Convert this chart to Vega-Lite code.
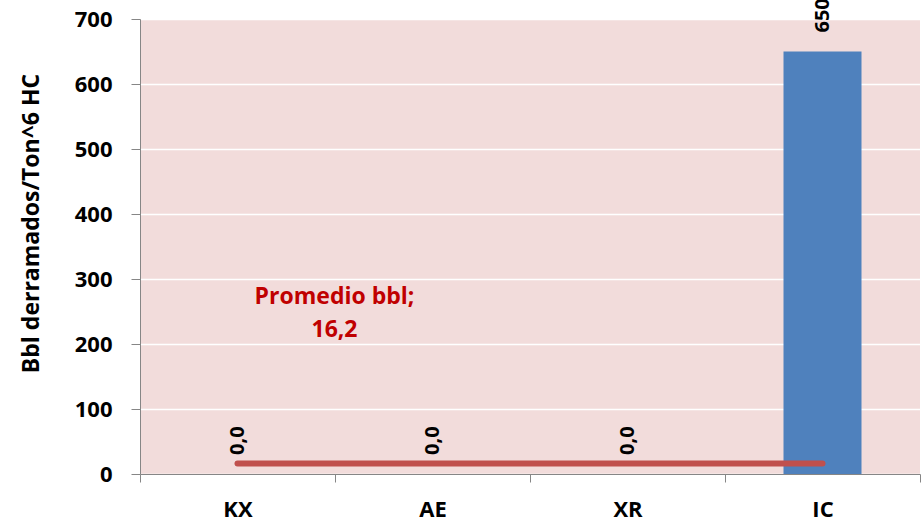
{
  "$schema": "https://vega.github.io/schema/vega-lite/v6.json",
  "width": 780,
  "height": 455,
  "autosize": {"type": "none"},
  "padding": {"left": 140, "top": 19, "right": 4, "bottom": 49},
  "background": "white",
  "config": {
    "locale": {"number": {"decimal": ",", "thousands": ".", "grouping": [3], "currency": ["", " €"]}},
    "view": {"fill": "#f2dcdb", "stroke": null},
    "font": "Open Sans"
  },
  "datasets": {
    "main": [
      {"cat": "KX", "value": 0},
      {"cat": "AE", "value": 0},
      {"cat": "XR", "value": 0},
      {"cat": "IC", "value": 650}
    ],
    "avg": [
      {"cat": "KX", "avg": 16.2},
      {"cat": "IC", "avg": 16.2}
    ],
    "note": [
      {"cat": "KX", "y": 272, "label": "Promedio bbl;\n16,2"}
    ]
  },
  "encoding": {
    "x": {
      "field": "cat", "type": "nominal", "sort": ["KX", "AE", "XR", "IC"],
      "scale": {"paddingInner": 0, "paddingOuter": 0},
      "axis": {
        "title": null, "labelAngle": 0, "labelFontSize": 22, "labelFontWeight": "bold",
        "labelColor": "black", "labelPadding": 17, "tickBand": "extent", "tickSize": 8,
        "tickColor": "#868686", "domainColor": "#868686", "grid": false
      }
    }
  },
  "layer": [
    {
      "data": {"name": "main"},
      "mark": {"type": "bar", "color": "#4f81bd", "width": {"band": 0.4}},
      "encoding": {
        "y": {
          "field": "value", "type": "quantitative",
          "scale": {"domain": [0, 700], "nice": false},
          "axis": {
            "values": [0, 100, 200, 300, 400, 500, 600, 700],
            "title": "Bbl derramados/Ton^6 HC", "titleFontSize": 23, "titleFontWeight": "bold",
            "titleColor": "black", "titlePadding": 31, "titleY": 204,
            "labelFontSize": 22, "labelFontWeight": "bold", "labelColor": "black",
            "labelPadding": 19, "tickSize": 9, "tickColor": "#868686", "domainColor": "#868686",
            "gridColor": "white", "gridWidth": 1.5
          }
        }
      }
    },
    {
      "data": {"name": "main"},
      "mark": {"type": "text", "angle": 270, "align": "left", "baseline": "middle", "dx": 19, "fontSize": 20, "fontWeight": "bold", "color": "black"},
      "encoding": {
        "y": {"field": "value", "type": "quantitative"},
        "text": {"field": "value", "type": "quantitative", "format": ".1f"}
      }
    },
    {
      "data": {"name": "avg"},
      "mark": {"type": "line", "color": "#c0504d", "strokeWidth": 6, "strokeCap": "round"},
      "encoding": {
        "y": {"field": "avg", "type": "quantitative"}
      }
    },
    {
      "data": {"name": "note"},
      "mark": {"type": "text", "align": "center", "baseline": "middle", "dx": 97, "lineBreak": "\n", "lineHeight": 33, "fontSize": 23, "fontWeight": "bold", "color": "#c00000"},
      "encoding": {
        "y": {"field": "y", "type": "quantitative"},
        "text": {"field": "label"}
      }
    }
  ]
}
